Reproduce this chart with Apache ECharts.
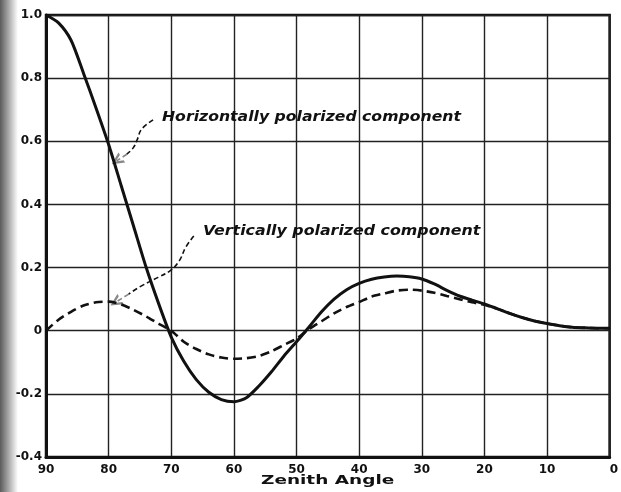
<html>
<head>
	<meta charset="UTF-8">
	<script src="https://cdn.jsdelivr.net/npm/echarts@6/dist/echarts.min.js"></script>
</head>
<body style="margin:0;background:#fff;">
<div id="chart" style="width: 621px;height:492px;"></div>

<script type="text/javascript">

        // zenith angle, degrees (every 2 degrees)
        var angles = [90, 88, 86, 84, 82, 80, 78, 76, 74, 72, 70, 68, 66, 64, 62, 60, 58, 56, 54, 52,
                      50, 48, 46, 44, 42, 40, 38, 36, 34, 32, 30, 28, 26, 24, 22, 20, 18, 16, 14, 12,
                      10, 8, 6, 4, 2, 0]
        // horizontally polarized component (solid)
        var horizValues = [1.0, 0.975, 0.92, 0.815, 0.705, 0.59, 0.46, 0.33, 0.2, 0.085, -0.02, -0.097, -0.155, -0.195, -0.218, -0.225, -0.212, -0.175, -0.13, -0.08,
                           -0.035, 0.012, 0.06, 0.1, 0.13, 0.15, 0.163, 0.17, 0.173, 0.171, 0.164, 0.148, 0.128, 0.11, 0.097, 0.085, 0.07, 0.055, 0.042, 0.031,
                           0.023, 0.016, 0.011, 0.009, 0.008, 0.008]
        // vertically polarized component (dashed)
        var vertValues = [0, 0.035, 0.06, 0.08, 0.09, 0.092, 0.083, 0.066, 0.045, 0.022, 0, -0.035, -0.058, -0.075, -0.085, -0.089, -0.087, -0.08, -0.065, -0.045,
                          -0.025, 0.005, 0.03, 0.055, 0.075, 0.091, 0.108, 0.118, 0.127, 0.13, 0.127, 0.12, 0.11, 0.1, 0.09, 0.082, 0.07, 0.055, 0.042, 0.031,
                          0.023, 0.016, 0.011, 0.009, 0.008, 0.008]

        // leader lines from the two captions (last point = arrow tip)
        var hLeaderAngles = [72.9, 74.75, 75.4, 76.05, 77.1, 78.7]
        var hLeaderValues = [0.668, 0.638, 0.607, 0.58, 0.559, 0.538]
        var vLeaderAngles = [66.4, 67.7, 68.7, 70.05, 72.1, 74.75, 76.8, 78.9]
        var vLeaderValues = [0.3, 0.264, 0.222, 0.192, 0.169, 0.142, 0.116, 0.09]

        var yTicks = ['-0.4', '-0.2', '0', '0.2', '0.4', '0.6', '0.8', '1.0']

        function pairs(xs, ys){
            var out = []
            for (var i = 0; i < xs.length; i++) {
                out.push([xs[i], ys[i]])
            }
            return out
        }

        var hLeader = pairs(hLeaderAngles, hLeaderValues)
        var vLeader = pairs(vLeaderAngles, vLeaderValues)
        var chevron = 'path://M5,0 L10,10 L7.8,10 L5,4 L2.2,10 L0,10 Z'

        var myChart = echarts.init(document.getElementById('chart'));

        var labelFont = {color: '#111', fontFamily: 'DejaVu Sans', fontWeight: 'bold', fontSize: 12}
        var leaderStyle = {color: '#111', width: 1.6, type: [5, 3]}

        option = {
            backgroundColor: '#fff',
            animation: false,
            grid: {left: 46, right: 1, top: 15, bottom: 35, show: true, borderColor: '#111', borderWidth: 2.5},
            xAxis: {
                type: 'value', inverse: true, min: 0, max: 90, interval: 10,
                axisLine: {onZero: false, lineStyle: {color: '#111', width: 3}},
                axisTick: {show: false},
                axisLabel: Object.assign({margin: 7, alignMinLabel: 'left', formatter: function(v){ return String(v) }}, labelFont),
                splitLine: {lineStyle: {color: '#222', width: 1.4}}
            },
            yAxis: {
                type: 'value', min: -0.4, max: 1.0, interval: 0.2,
                axisLine: {onZero: false, lineStyle: {color: '#111', width: 3}},
                axisTick: {show: false},
                axisLabel: Object.assign({margin: 4, formatter: function(v){
                    var k = Math.round((v + 0.4) / 0.2)
                    return yTicks[k]
                }}, labelFont),
                splitLine: {lineStyle: {color: '#222', width: 1.4}}
            },
            series: [
                {
                    name: 'Vertically polarized component', type: 'line', smooth: 0.25, symbol: 'none',
                    data: pairs(angles, vertValues),
                    lineStyle: {color: '#111', width: 2.6, type: [9, 5]}, z: 3
                },
                {
                    name: 'Horizontally polarized component', type: 'line', smooth: 0.25, symbol: 'none',
                    data: pairs(angles, horizValues),
                    lineStyle: {color: '#111', width: 3}, z: 4
                },
                {
                    type: 'line', smooth: 0.4, symbol: 'none',
                    data: hLeader.slice(0, hLeader.length - 1),
                    lineStyle: leaderStyle, z: 2
                },
                {
                    type: 'line', smooth: 0.4, symbol: 'none',
                    data: vLeader.slice(0, vLeader.length - 1),
                    lineStyle: leaderStyle, z: 2
                },
                {
                    type: 'lines', coordinateSystem: 'cartesian2d',
                    symbol: ['none', chevron], symbolSize: [0, 12],
                    lineStyle: leaderStyle, z: 2,
                    data: [
                        {coords: [hLeader[hLeader.length - 2], hLeader[hLeader.length - 1]]},
                        {coords: [vLeader[vLeader.length - 2], vLeader[vLeader.length - 1]]}
                    ]
                }
            ],
            graphic: [
                {
                    type: 'rect', left: 0, top: 0, z: -1, silent: true,
                    shape: {width: 18, height: 492},
                    style: {fill: new echarts.graphic.LinearGradient(0, 0, 1, 0, [
                        {offset: 0, color: 'rgba(20,20,20,0.7)'},
                        {offset: 1, color: 'rgba(20,20,20,0)'}
                    ])}
                },
                {
                    type: 'text', x: 162, y: 110, scaleX: 1.12, z: 10,
                    style: {text: 'Horizontally polarized component', fill: '#111',
                            font: 'italic bold 14px "DejaVu Sans"'}
                },
                {
                    type: 'text', x: 203, y: 224, scaleX: 1.13, z: 10,
                    style: {text: 'Vertically polarized component', fill: '#111',
                            font: 'italic bold 14px "DejaVu Sans"'}
                },
                {
                    type: 'text', x: 261, y: 474, scaleX: 1.42, z: 10,
                    style: {text: 'Zenith Angle', fill: '#111',
                            font: 'bold 13px "DejaVu Sans"'}
                }
            ]
        };

        myChart.setOption(option);

</script>
</body>
</html>
